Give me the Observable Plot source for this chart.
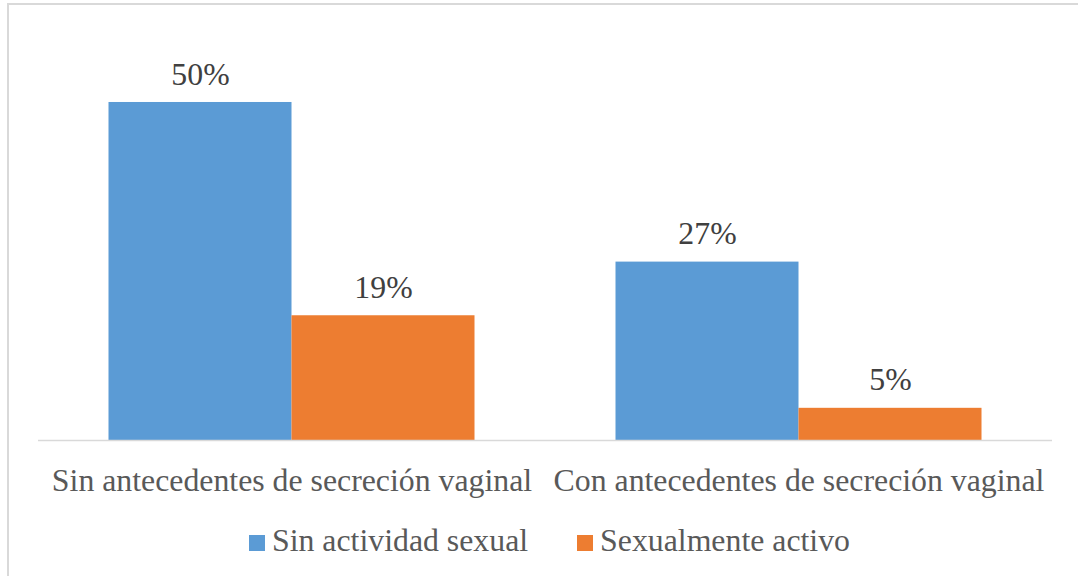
<!DOCTYPE html>
<html>
<head>
<meta charset="utf-8">
<script src="https://cdn.jsdelivr.net/npm/d3@7"></script>
<script src="https://cdn.jsdelivr.net/npm/@observablehq/plot@0.6"></script>
<style>
  html, body { margin: 0; padding: 0; background: #fff; }
  body { width: 1078px; height: 576px; position: relative; overflow: hidden; font-family: 'Liberation Serif', serif; }
  #frame { position: absolute; left: 7px; top: 3px; width: 1080px; height: 600px; border-left: 2px solid #d9d9d9; border-top: 2px solid #d9d9d9; box-sizing: border-box; }
  #chart { position: absolute; left: 0; top: 0; }
  #chart svg, #chart svg text { font-family: 'Liberation Serif', serif !important; }
  #legend { position: absolute; left: 249px; top: 525px; display: flex; align-items: center; font-family: 'Liberation Serif', serif; font-size: 31.8px; line-height: 32px; color: #595959; white-space: nowrap; }
  .item { display: flex; align-items: center; }
  .sw { width: 16px; height: 16px; margin-right: 7px; margin-top: 3px; }
</style>
</head>
<body>
<div id="frame"></div>
<div id="chart"></div>
<div id="legend"></div>
<script>
const categories = ["Sin antecedentes de secreción vaginal", "Con antecedentes de secreción vaginal"];
const seriesNames = ["Sin actividad sexual", "Sexualmente activo"];
const sinActividad = [50.4, 26.6];
const sexualmenteActivo = [18.6, 4.8];
const colors = ["#5b9bd5", "#ed7d31"];

const data = [];
categories.forEach((c, i) => {
  data.push({category: c, series: seriesNames[0], value: sinActividad[i]});
  data.push({category: c, series: seriesNames[1], value: sexualmenteActivo[i]});
});

const chart = Plot.plot({
  width: 1078,
  height: 510,
  marginLeft: 37.5,
  marginRight: 26.5,
  marginTop: 37.6,
  marginBottom: 70,
  style: {fontFamily: "'Liberation Serif', serif", background: "transparent", color: "#595959"},
  fx: {domain: categories, paddingInner: 0, paddingOuter: 0, label: null},
  x: {domain: seriesNames, paddingInner: 0, paddingOuter: 0.378, axis: null},
  y: {domain: [0, 60], axis: null},
  color: {domain: seriesNames, range: colors},
  marks: [
    Plot.barY(data, {fx: "category", x: "series", y: "value", fill: "series"}),
    Plot.ruleY([0], {stroke: "#d9d9d9", strokeWidth: 1.5}),
    Plot.text(data, {fx: "category", x: "series", y: "value", text: d => Math.round(d.value) + "%", dy: -28, fontSize: 31.8, fill: "#404040"}),
    Plot.axisFx({anchor: "bottom", tickSize: 0, tickPadding: 28, fontSize: 31.8, label: null, fill: "#595959"})
  ]
});
chart.setAttribute("font-family", "Liberation Serif");
document.getElementById("chart").appendChild(chart);

const legend = document.getElementById("legend");
seriesNames.forEach((s, i) => {
  const item = document.createElement("div");
  item.className = "item";
  if (i > 0) item.style.marginLeft = "49px";
  const sw = document.createElement("div");
  sw.className = "sw";
  sw.style.background = colors[i];
  const t = document.createElement("span");
  t.textContent = s;
  item.appendChild(sw);
  item.appendChild(t);
  legend.appendChild(item);
});
</script>
</body>
</html>
